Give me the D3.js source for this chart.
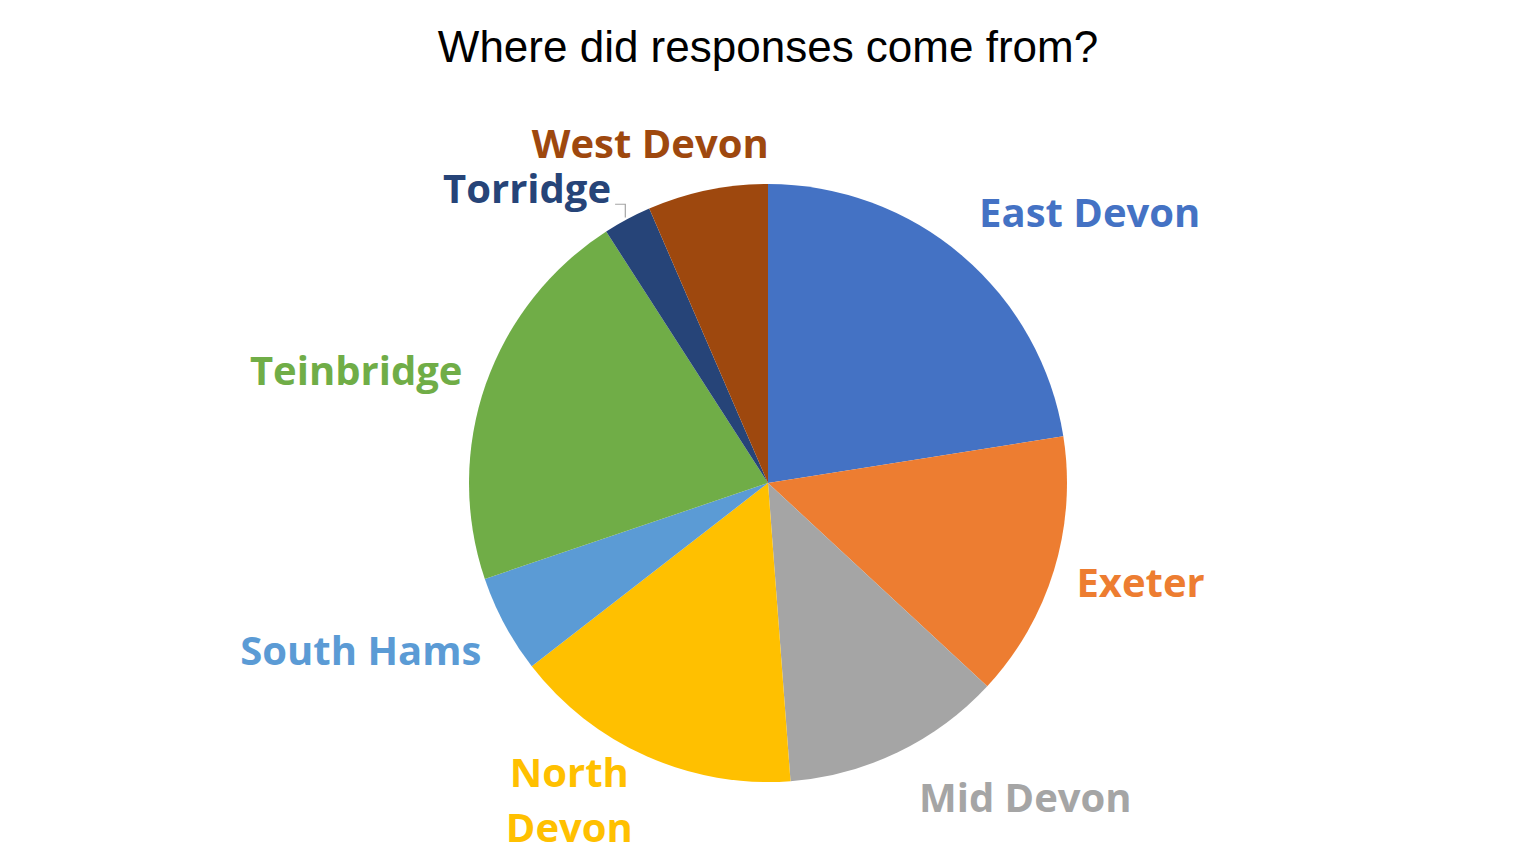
<!DOCTYPE html>
<html>
<head>
<meta charset="utf-8">
<script src="https://cdn.jsdelivr.net/npm/d3@7"></script>
<style>
  html, body { margin: 0; padding: 0; background: #fff; }
  .label { font-family: "Open Sans", sans-serif; font-weight: 700; }
</style>
</head>
<body>
<div id="chart"></div>
<script>
// share of responses by district (percent)
let districts = ["East Devon", "Exeter", "Mid Devon", "North Devon", "South Hams", "Teinbridge", "Torridge", "West Devon"];
let shares = [22.5, 14.4, 11.9, 15.7, 5.3, 21.1, 2.6, 6.5];
let colours = ["#4472c4", "#ed7d31", "#a5a5a5", "#ffc000", "#5b9bd5", "#70ad47", "#264478", "#9e480e"];

let width = 1536, height = 864;
let cx = 768, cy = 483, r = 299;

// label nudges from the point at 1.25r on each slice's mid angle
let nudge = [[79, 28], [15, 5], [95, -8], [-47, -38], [-78, 5], [-59, 25], [-65, 50], [-42, 41]];

let svg = d3.select("#chart").append("svg")
    .attr("width", width)
    .attr("height", height);

svg.append("text")
    .attr("x", width / 2)
    .attr("y", 62)
    .attr("text-anchor", "middle")
    .style("font-family", "'Liberation Sans', Arial, sans-serif")
    .style("font-size", "44px")
    .style("fill", "#000")
    .text("Where did responses come from?");

let data = districts.map(function(d, i) { return {name: d, value: shares[i], colour: colours[i]}; });

let pie = d3.pie()
    .sort(null)
    .value(function(d) { return d.value; });

let arc = d3.arc()
    .innerRadius(0)
    .outerRadius(r);

let g = svg.append("g")
    .attr("transform", "translate(" + cx + "," + cy + ")");

let arcs = pie(data);

g.selectAll("path.slice")
    .data(arcs)
    .enter().append("path")
    .attr("class", "slice")
    .attr("d", arc)
    .attr("fill", function(d) { return d.data.colour; });

// labels
let labels = g.selectAll("text.label")
    .data(arcs)
    .enter().append("text")
    .attr("class", "label")
    .attr("text-anchor", "middle")
    .style("font-size", "40px")
    .style("fill", function(d) { return d.data.colour; })
    .attr("transform", function(d, i) {
        let a = (d.startAngle + d.endAngle) / 2;
        let x = Math.sin(a) * r * 1.25 + nudge[i][0];
        let y = -Math.cos(a) * r * 1.25 + nudge[i][1];
        return "translate(" + x + "," + y + ")";
    });

labels.each(function(d) {
    let t = d3.select(this);
    if (d.data.name == "North Devon") {
        t.append("tspan").attr("x", 0).attr("dy", 0).text("North");
        t.append("tspan").attr("x", 0).attr("dy", 55).text("Devon");
    } else {
        t.text(d.data.name);
    }
});

// leader line for the small Torridge slice
let torr = arcs[6];
let ta = (torr.startAngle + torr.endAngle) / 2;
let tLabel = labels.filter(function(d) { return d.data.name == "Torridge"; }).node();
let bb = tLabel.getBBox();
let tr = tLabel.transform.baseVal.consolidate().matrix;
let lx = tr.e + bb.x + bb.width + 4;
let ly = tr.f + 1;
let px = Math.sin(ta) * (r + 2);
let py = -Math.cos(ta) * (r + 2);
g.append("path")
    .attr("d", "M" + lx + "," + ly + "H" + (px - 1) + "V" + py)
    .attr("fill", "none")
    .attr("stroke", "#a5a5a5")
    .attr("stroke-width", 1.2);
</script>
</body>
</html>
